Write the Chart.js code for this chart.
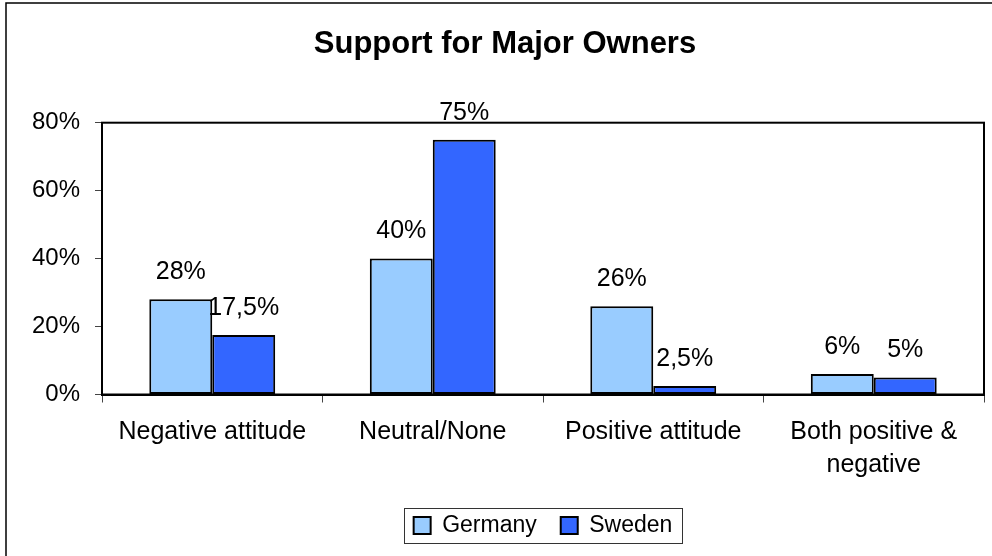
<!DOCTYPE html>
<html>
<head>
<meta charset="utf-8" />
<title>Support for Major Owners</title>
<script src="https://cdn.jsdelivr.net/npm/chart.js@4.4.1/dist/chart.umd.min.js"></script>
<style>
  html, body { margin: 0; padding: 0; background: #fff; }
  canvas { display: block; }
</style>
</head>
<body>
<canvas id="owners" width="992" height="556"></canvas>
<script>
// attitude categories (multi-line label for the last one)
var categories = ["Negative attitude", "Neutral/None", "Positive attitude", ["Both positive &", "negative"]];
var germany = [28, 40, 26, 6];
var sweden = [17.5, 75, 2.5, 5];
var yTicks = [0, 20, 40, 60, 80];

function pct(v) {
  return String(v).replace(".", ",") + "%";
}

// white page, outer frame and the black box round the plot
var frame = {
  id: "frame",
  beforeDraw: function (chart) {
    var ctx = chart.ctx;
    ctx.save();
    ctx.fillStyle = "#fff";
    ctx.fillRect(0, 0, chart.width, chart.height);
    ctx.strokeStyle = "#000";
    ctx.lineWidth = 1.5;
    ctx.beginPath();
    ctx.moveTo(6, chart.height);
    ctx.lineTo(6, 3);
    ctx.lineTo(chart.width, 3);
    ctx.stroke();
    ctx.restore();
  },
  afterDatasetsDraw: function (chart) {
    var ctx = chart.ctx, a = chart.chartArea;
    ctx.save();
    ctx.strokeStyle = "#000";
    ctx.lineWidth = 2;
    ctx.strokeRect(a.left, a.top, a.right - a.left, a.bottom - a.top);

    // value labels above each bar
    ctx.fillStyle = "#000";
    ctx.font = "25px 'Liberation Sans', Arial, sans-serif";
    ctx.textAlign = "center";
    ctx.textBaseline = "middle";
    chart.data.datasets.forEach(function (ds, i) {
      chart.getDatasetMeta(i).data.forEach(function (bar, j) {
        ctx.fillText(pct(ds.data[j]), bar.x, bar.y - 27);
      });
    });
    ctx.restore();
  },
  afterDraw: function (chart) {
    // border round the legend
    var boxes = chart.legend.legendHitBoxes;
    if (!boxes || !boxes.length) return;
    var first = boxes[0], last = boxes[boxes.length - 1];
    var cy = first.top + first.height / 2;
    var x0 = Math.round(first.left - 10);
    var x1 = Math.round(last.left + last.width + 10);
    var ctx = chart.ctx;
    ctx.save();
    ctx.strokeStyle = "#333";
    ctx.lineWidth = 1;
    ctx.strokeRect(x0 + 0.5, Math.round(cy - 17.5) + 0.5, x1 - x0, 35);
    ctx.restore();
  }
};

Chart.defaults.color = "#000";
Chart.defaults.font.family = "'Liberation Sans', Arial, sans-serif";

new Chart(document.getElementById("owners").getContext("2d"), {
  type: "bar",
  data: {
    labels: categories,
    datasets: [
      {
        label: "Germany",
        data: germany,
        backgroundColor: "#99CCFF",
        borderColor: "#000",
        borderWidth: 2,
        borderSkipped: false
      },
      {
        label: "Sweden",
        data: sweden,
        backgroundColor: "#3366FF",
        borderColor: "#000",
        borderWidth: 2,
        borderSkipped: false
      }
    ]
  },
  options: {
    responsive: false,
    animation: false,
    layout: { padding: { left: 26, right: 8, top: 0, bottom: 9 } },
    categoryPercentage: 0.571,
    barPercentage: 1.0,
    plugins: {
      title: {
        display: true,
        text: "Support for Major Owners",
        font: { size: 31, weight: "bold" },
        padding: { top: 26, bottom: 59.5 }
      },
      legend: {
        position: "bottom",
        fullSize: false,
        labels: {
          boxWidth: 17,
          boxHeight: 17,
          padding: 24,
          font: { size: 23 },
          color: "#000"
        }
      },
      tooltip: { enabled: false }
    },
    scales: {
      x: {
        grid: { display: true, offset: true, drawOnChartArea: false, tickLength: 8, color: "#444", lineWidth: 1 },
        border: { display: true, color: "#000", width: 2 },
        ticks: { padding: 13, font: { size: 25, lineHeight: 1.32 }, maxRotation: 0, autoSkip: false },
        afterFit: function (scale) { scale.height = 95.5; }
      },
      y: {
        min: 0,
        max: 80,
        grid: { display: true, drawOnChartArea: false, tickLength: 7, color: "#444", lineWidth: 1 },
        border: { display: true, color: "#000", width: 2 },
        ticks: {
          stepSize: 20,
          padding: 15,
          font: { size: 24 },
          callback: function (v) { return yTicks.indexOf(v) >= 0 ? v + "%" : ""; }
        },
        afterFit: function (scale) { scale.width = 76; }
      }
    }
  },
  plugins: [frame]
});
</script>
</body>
</html>
